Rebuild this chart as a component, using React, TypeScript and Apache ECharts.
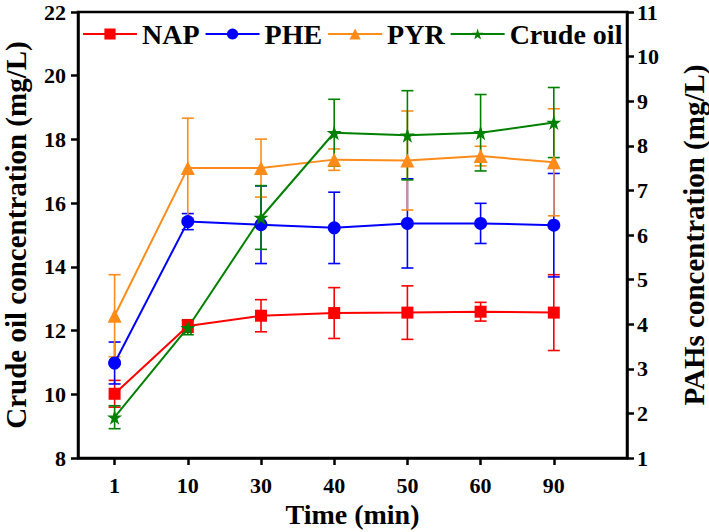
import React, { useEffect, useRef } from "react";
import * as echarts from "echarts";

const timeLabels = ["1", "10", "30", "40", "50", "60", "90"];
const napMean = [2.44, 3.96, 4.19, 4.25, 4.26, 4.28, 4.26];
const napErr = [0.3, 0.14, 0.36, 0.57, 0.6, 0.21, 0.85];
const pheMean = [3.13, 6.3, 6.23, 6.16, 6.26, 6.26, 6.22];
const pheErr = [0.47, 0.18, 0.87, 0.8, 1.0, 0.45, 1.16];
const pyrMean = [4.19, 7.5, 7.5, 7.69, 7.67, 7.77, 7.63];
const pyrErr = [0.92, 1.12, 0.65, 0.24, 1.11, 0.22, 1.2];
const crudeMean = [9.28, 12.09, 15.55, 18.21, 18.13, 18.21, 18.53];
const crudeErr = [0.36, 0.22, 1.0, 1.05, 1.4, 1.2, 1.1];

const FONT = "'Liberation Serif', 'Times New Roman', serif";
const STAR =
  "path://M50,0 L61.2,34.5 L97.6,34.5 L68.2,55.9 L79.4,90.5 L50,69.1 L20.6,90.5 L31.8,55.9 L2.4,34.5 L38.8,34.5 Z";

const idx = timeLabels.map((_, i) => i);

function lineSeries(name: string, color: string, mean: number[], yAxisIndex: number, symbol: string, size: number) {
  return {
    name,
    type: "line",
    yAxisIndex,
    data: mean.map((v, i) => [i, v]),
    symbol,
    symbolSize: size,
    lineStyle: { color, width: 2 },
    itemStyle: { color },
    z: 5,
  };
}

function errSeries(name: string, color: string, mean: number[], err: number[], yAxisIndex: number) {
  return {
    name: name + " error",
    type: "custom",
    yAxisIndex,
    data: mean.map((v, i) => [i, v, err[i]]),
    encode: { x: 0, y: 1 },
    itemStyle: { color },
    z: 3,
    renderItem: (params: any, api: any) => {
      const x = api.value(0);
      const y = api.value(1);
      const e = api.value(2);
      const top = api.coord([x, y + e]);
      const bot = api.coord([x, y - e]);
      const hw = 6;
      const style = { stroke: color, lineWidth: 1.6 };
      return {
        type: "group",
        children: [
          { type: "line", shape: { x1: top[0], y1: top[1], x2: bot[0], y2: bot[1] }, style },
          { type: "line", shape: { x1: top[0] - hw, y1: top[1], x2: top[0] + hw, y2: top[1] }, style },
          { type: "line", shape: { x1: bot[0] - hw, y1: bot[1], x2: bot[0] + hw, y2: bot[1] }, style },
        ],
      };
    },
  };
}

export default function App() {
  const ref = useRef<HTMLDivElement>(null);
  useEffect(() => {
    if (!ref.current) return;
    const chart = echarts.init(ref.current, undefined, { renderer: "svg" });
    const axisLine = { show: true, onZero: false, lineStyle: { color: "#000", width: 2.5 } };
    const axisTick = { show: true, length: 7, lineStyle: { color: "#000", width: 2.5 } };
    const labelStyle = { color: "#000", fontFamily: FONT, fontWeight: "bold", fontSize: 22 };
    const nameStyle = { color: "#000", fontFamily: FONT, fontWeight: "bold", fontSize: 29 };
    chart.setOption({
      animation: false,
      backgroundColor: "#fff",
      grid: {
        left: 78,
        right: 82,
        top: 12,
        bottom: 74,
        show: true,
        borderColor: "#000",
        borderWidth: 2.5,
        containLabel: false,
        outerBoundsMode: "none",
      },
      legend: {
        left: 82,
        top: 20,
        padding: 0,
        itemGap: 5,
        itemWidth: 54,
        itemHeight: 14,
        textStyle: { color: "#000", fontFamily: FONT, fontWeight: "bold", fontSize: 28 },
        data: ["NAP", "PHE", "PYR", "Crude oil"],
      },
      xAxis: {
        type: "value",
        min: -0.5,
        max: 7,
        name: "Time (min)",
        nameLocation: "middle",
        nameGap: 42,
        nameTextStyle: { ...nameStyle, fontSize: 28 },
        axisLine,
        axisTick: { ...axisTick, customValues: idx },
        axisLabel: {
          ...labelStyle,
          margin: 16,
          customValues: idx,
          formatter: (v: number) => timeLabels[Math.round(v)] ?? "",
        },
        splitLine: { show: false },
      },
      yAxis: [
        {
          type: "value",
          position: "left",
          min: 8,
          max: 22,
          interval: 2,
          name: "Crude oil concentration (mg/L)",
          nameLocation: "middle",
          nameGap: 48,
          nameTextStyle: nameStyle,
          axisLine,
          axisTick,
          axisLabel: { ...labelStyle, margin: 12 },
          splitLine: { show: false },
        },
        {
          type: "value",
          position: "right",
          min: 1,
          max: 11,
          interval: 1,
          name: "PAHs concentration (mg/L)",
          nameLocation: "middle",
          nameGap: 52,
          nameRotate: 90,
          nameTextStyle: nameStyle,
          axisLine,
          axisTick,
          axisLabel: { ...labelStyle, margin: 10 },
          splitLine: { show: false },
        },
      ],
      series: [
        lineSeries("NAP", "#FF0000", napMean, 1, "rect", 12),
        lineSeries("PHE", "#0000FF", pheMean, 1, "circle", 13),
        lineSeries("PYR", "#FF8C1A", pyrMean, 1, "triangle", 14),
        lineSeries("Crude oil", "#008000", crudeMean, 0, STAR, 15),
        errSeries("NAP", "#FF0000", napMean, napErr, 1),
        errSeries("PHE", "#0000FF", pheMean, pheErr, 1),
        errSeries("PYR", "#FF8C1A", pyrMean, pyrErr, 1),
        errSeries("Crude oil", "#008000", crudeMean, crudeErr, 0),
      ],
    });
    return () => chart.dispose();
  }, []);
  return <div ref={ref} style={{ position: "fixed", left: 0, top: 0, width: 709, height: 532 }} />;
}
